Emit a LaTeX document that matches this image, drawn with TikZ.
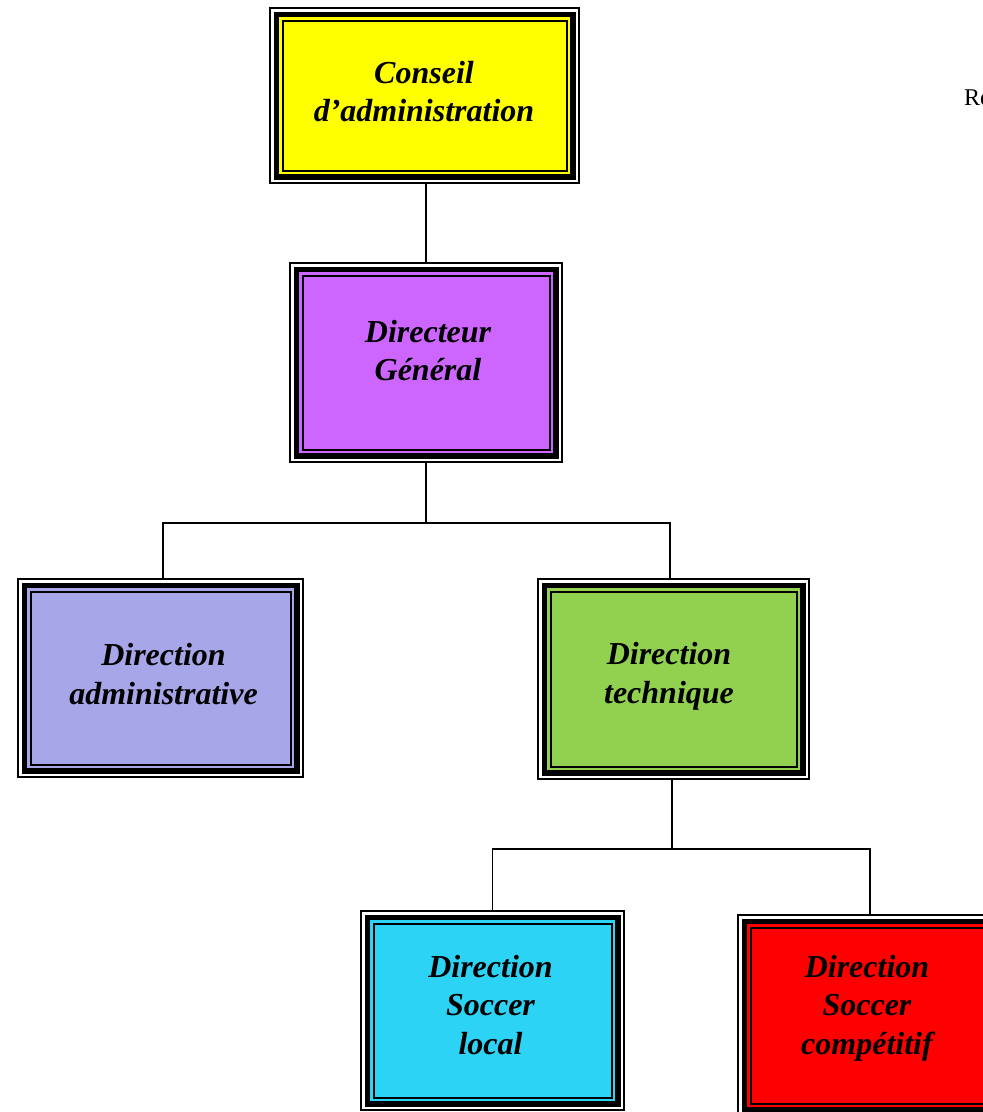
\documentclass[tikz,border=0pt]{standalone}
\usepackage{fontspec}
\setmainfont{Liberation Serif}
\newcommand\orginset[2]{\fill[#1] ([shift={(#2,-#2)}]path picture bounding box.north west) rectangle ([shift={(-#2,#2)}]path picture bounding box.south east);}
\definecolor{cyel}{HTML}{FFFF00}
\definecolor{cpur}{HTML}{CC66FF}
\definecolor{clav}{HTML}{A6A6E8}
\definecolor{cgrn}{HTML}{92D050}
\definecolor{ccya}{HTML}{2DD3F5}
\definecolor{cred}{HTML}{FF0000}
\tikzset{
  orgbox/.style={rectangle, inner sep=0pt, fill=black, path picture={
      \orginset{white}{2pt}
      \orginset{black}{4.5pt}
      \orginset{#1}{10pt}
      \orginset{black}{12.5pt}
      \orginset{#1}{14.5pt}
  }},
  orgtext/.style={align=center, inner sep=0pt, font=\bfseries\itshape\fontsize{32}{38.5}\selectfont},
  link/.style={line width=1.6pt, black}
}
\begin{document}
\begin{tikzpicture}[x=1pt,y=-1pt]
\useasboundingbox (0,0) rectangle (983,1112);
% boxes
\node[orgbox=cyel, minimum width=311pt, minimum height=177pt] (b1) at (424.5,95.5) {};
\node[orgbox=cpur, minimum width=274pt, minimum height=201pt] (b2) at (426,362.5) {};
\node[orgbox=clav, minimum width=287pt, minimum height=200pt] (b3) at (160.5,678) {};
\node[orgbox=cgrn, minimum width=273pt, minimum height=202pt] (b4) at (673.5,679) {};
\node[orgbox=ccya, minimum width=265pt, minimum height=201pt] (b5) at (492.5,1010.5) {};
\node[orgbox=cred, minimum width=266pt, minimum height=203pt] (b6) at (870,1015.5) {};
% texts
\node[orgtext] (t1) at (424,91.5) {Conseil\\d’administration};
\node[orgtext] (t2) at (428,350.5) {Directeur\\Général};
\node[orgtext] (t3) at (163.5,674) {Direction\\administrative};
\node[orgtext] (t4) at (669,676.5) {Direction\\technique};
\node[orgtext] (t5) at (490.5,1005) {Direction\\Soccer\\local};
\node[orgtext] (t6) at (867,1008) {Direction\\Soccer\\compétitif};
\node[anchor=base west, inner sep=0pt, font=\fontsize{24}{28}\selectfont] (re) at (964,105) {Re};
% connectors
\coordinate (j1) at (426,523);
\coordinate (j2) at (672,849);
\draw[link] (b1.south -| b2.north) -- (b2.north);
\draw[link] (b2.south) -- (j1);
\draw[link] ([xshift=2.5pt]b3.north) |- (j1) -| ([xshift=-3.5pt]b4.north);
\draw[link] ([xshift=-1.5pt]b4.south) -- (j2);
\draw[link] (b5.north) |- (j2) -| (b6.north);
\end{tikzpicture}
\end{document}
